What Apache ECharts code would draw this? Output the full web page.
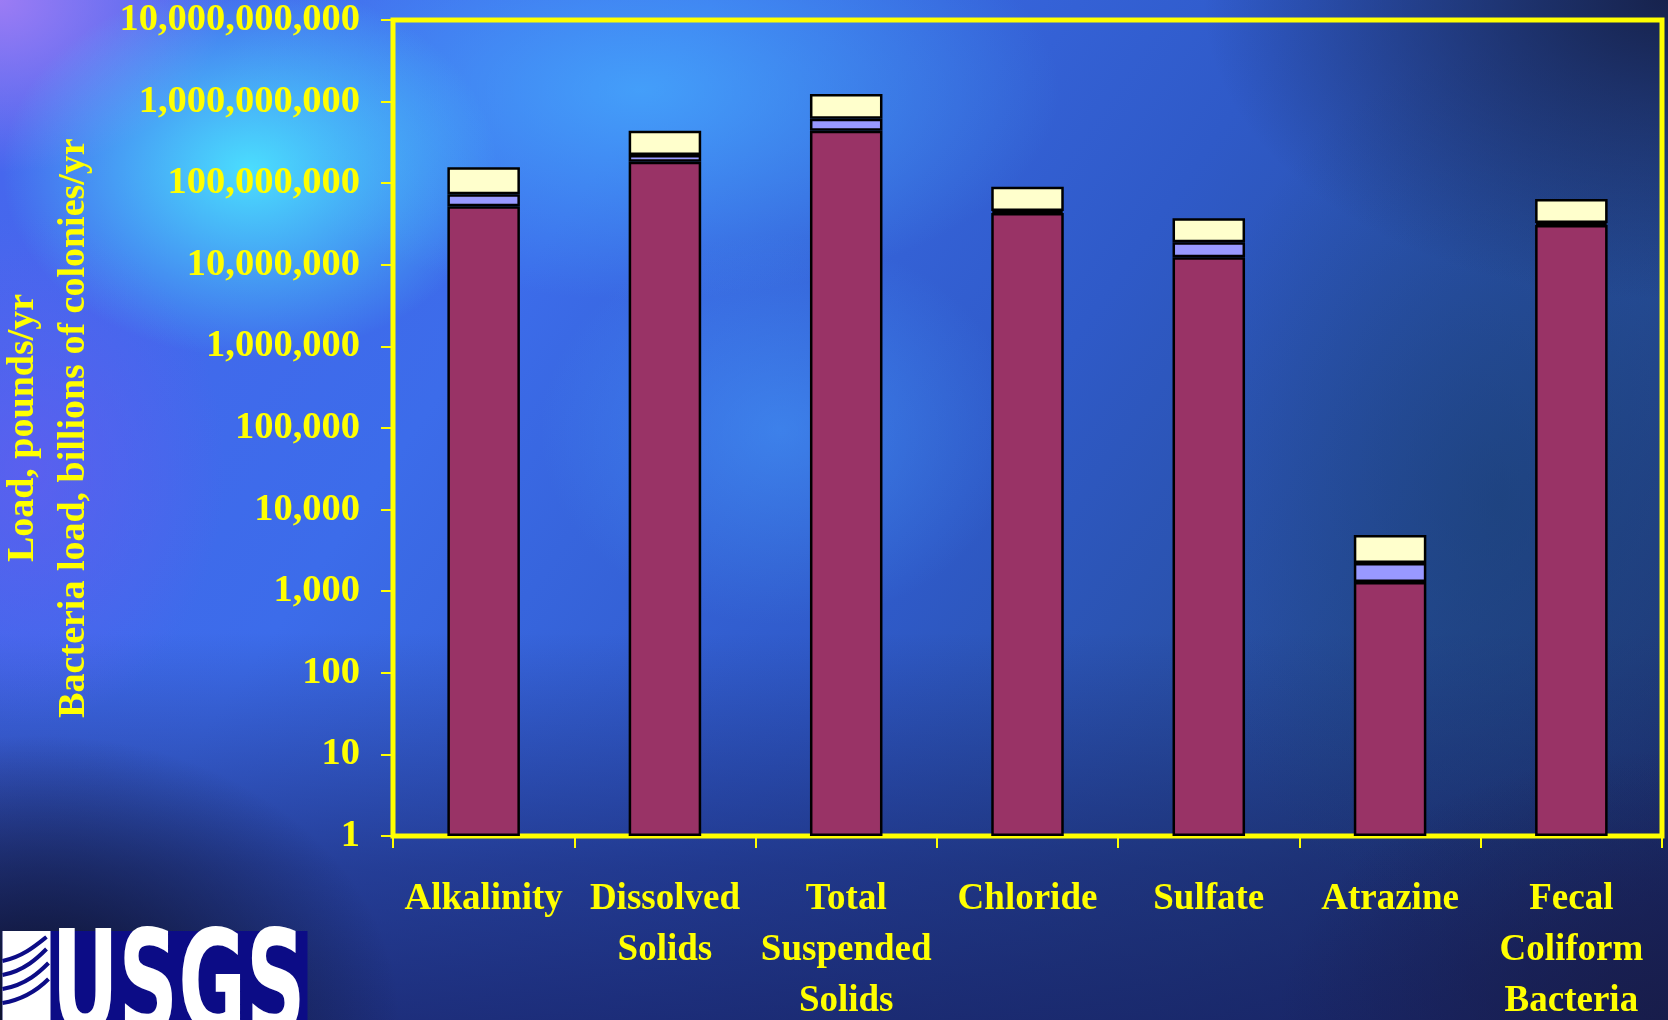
<!DOCTYPE html>
<html>
<head>
<meta charset="utf-8">
<title>Constituent loads</title>
<script src="https://cdn.jsdelivr.net/npm/echarts@6/dist/echarts.min.js"></script>
<style>
  html, body {
    margin: 0;
    padding: 0;
    width: 1668px;
    height: 1020px;
    overflow: hidden;
  }
  body {
    background:
      radial-gradient(ellipse 330px 250px at 250px 170px, rgba(75, 228, 255, 0.95), rgba(75, 228, 255, 0) 75%),
      radial-gradient(ellipse 300px 230px at 0px 0px, rgba(160, 125, 245, 0.95), rgba(160, 125, 245, 0) 75%),
      radial-gradient(ellipse 560px 280px at 640px 90px, rgba(70, 175, 255, 0.75), rgba(70, 175, 255, 0) 75%),
      radial-gradient(ellipse 320px 260px at 780px 430px, rgba(70, 160, 255, 0.5), rgba(70, 160, 255, 0) 75%),
      radial-gradient(ellipse 260px 340px at 30px 470px, rgba(100, 92, 240, 0.7), rgba(100, 92, 240, 0) 75%),
      radial-gradient(ellipse 480px 380px at 40px 1020px, rgba(12, 14, 38, 1), rgba(12, 14, 38, 0) 75%),
      radial-gradient(ellipse 620px 400px at 1668px 0px, rgba(22, 32, 72, 0.95), rgba(22, 32, 72, 0) 75%),
      radial-gradient(ellipse 520px 360px at 1668px 1020px, rgba(24, 28, 72, 0.9), rgba(24, 28, 72, 0) 75%),
      radial-gradient(ellipse 420px 600px at 1500px 500px, rgba(24, 60, 110, 0.55), rgba(24, 60, 110, 0) 75%),
      linear-gradient(180deg, rgba(22, 30, 95, 0) 0%, rgba(22, 30, 95, 0) 62%, rgba(22, 30, 95, 0.55) 85%, rgba(22, 30, 95, 0.75) 100%),
      linear-gradient(125deg, #4866ee 0%, #3c6cea 30%, #2f5ac8 55%, #264c98 78%, #1d3068 100%);
  }
  #chart {
    width: 1668px;
    height: 1020px;
  }
</style>
</head>
<body>
<div id="chart"></div>
<script>
// Loads by constituent, split into three stacked components (values per year)
const categories = [
  'Alkalinity',
  'Dissolved\nSolids',
  'Total\nSuspended\nSolids',
  'Chloride',
  'Sulfate',
  'Atrazine',
  'Fecal\nColiform\nBacteria'
];
const lowerLoad  = [52000000, 183000000, 440000000, 43000000, 12400000, 1300, 30800000];
const middleLoad = [21000000,  39000000, 177000000,  2500000,  6500000,  920,  1700000];
const upperLoad  = [84000000, 218000000, 620000000, 45000000, 18300000, 2670, 31500000];

const yTickLabels = [
  '1', '10', '100', '1,000', '10,000', '100,000', '1,000,000',
  '10,000,000', '100,000,000', '1,000,000,000', '10,000,000,000'
];

const yellow = '#FFFF00';
const serif = '"Liberation Serif", "Times New Roman", serif';

// Fit the USGS word mark into its box
const logoFont = 'bold 140px "Liberation Sans Narrow", "DejaVu Sans Condensed", "Liberation Sans", sans-serif';
const measureCtx = document.createElement('canvas').getContext('2d');
measureCtx.font = logoFont;
const logoScaleX = 254 / measureCtx.measureText('USGS').width;

const chart = echarts.init(document.getElementById('chart'), null, { renderer: 'canvas' });

const barStyle = (color) => ({
  color: color,
  borderColor: '#000000',
  borderWidth: 2.5
});

chart.setOption({
  backgroundColor: 'transparent',
  animation: false,
  grid: {
    left: 393,
    right: 6,
    top: 20,
    bottom: 184,
    outerBoundsMode: 'none',
    containLabel: false,
    show: true,
    borderColor: yellow,
    borderWidth: 5,
    backgroundColor: 'transparent'
  },
  xAxis: {
    type: 'category',
    data: categories,
    axisLine: { show: false },
    axisTick: {
      show: true,
      length: 12,
      lineStyle: { color: yellow, width: 2 }
    },
    axisLabel: {
      interval: 0,
      margin: 38,
      color: yellow,
      fontFamily: serif,
      fontWeight: 'bold',
      fontSize: 37,
      lineHeight: 51
    },
    splitLine: { show: false }
  },
  yAxis: {
    type: 'log',
    logBase: 10,
    min: 1,
    max: 10000000000,
    interval: 1,
    name: 'Load, pounds/yr\nBacteria load, billions of colonies/yr',
    nameLocation: 'middle',
    nameRotate: 90,
    nameGap: 293,
    nameTextStyle: {
      color: yellow,
      fontFamily: serif,
      fontWeight: 'bold',
      fontSize: 38,
      lineHeight: 51,
      align: 'center'
    },
    axisLine: { show: false },
    axisTick: {
      show: true,
      length: 12,
      lineStyle: { color: yellow, width: 2 }
    },
    axisLabel: {
      margin: 33,
      color: yellow,
      fontFamily: serif,
      fontWeight: 'bold',
      fontSize: 38.5,
      showMinLabel: true,
      showMaxLabel: true,
      hideOverlap: false,
      formatter: (v) => {
        const i = Math.round(Math.log10(v));
        return yTickLabels[i] !== undefined ? yTickLabels[i] : '';
      }
    },
    splitLine: { show: false },
    minorTick: { show: false }
  },
  series: [
    {
      name: 'Lower',
      type: 'bar',
      stack: 'load',
      barWidth: '40%',
      data: lowerLoad,
      itemStyle: barStyle('#993366')
    },
    {
      name: 'Middle',
      type: 'bar',
      stack: 'load',
      barWidth: '40%',
      data: middleLoad,
      itemStyle: barStyle('#9999FF')
    },
    {
      name: 'Upper',
      type: 'bar',
      stack: 'load',
      barWidth: '40%',
      data: upperLoad,
      itemStyle: barStyle('#FFFFCC')
    }
  ],
  graphic: [
    {
      // USGS identifier block
      type: 'group',
      left: 0,
      top: 925,
      silent: true,
      children: [
        {
          type: 'rect',
          shape: { x: 0, y: 0, width: 305, height: 95 },
          style: { fill: '#0c0c86' }
        },
        {
          type: 'rect',
          shape: { x: 0, y: 0, width: 48, height: 95 },
          style: { fill: '#ffffff' }
        },
        {
          type: 'bezierCurve',
          shape: { x1: 0, y1: 30, x2: 44, y2: 6, cpx1: 20, cpy1: 26, cpx2: 34, cpy2: 14 },
          style: { stroke: '#0c0c86', lineWidth: 4, fill: null }
        },
        {
          type: 'bezierCurve',
          shape: { x1: 0, y1: 44, x2: 44, y2: 18, cpx1: 22, cpy1: 40, cpx2: 36, cpy2: 26 },
          style: { stroke: '#0c0c86', lineWidth: 4, fill: null }
        },
        {
          type: 'bezierCurve',
          shape: { x1: 0, y1: 58, x2: 46, y2: 32, cpx1: 24, cpy1: 54, cpx2: 38, cpy2: 40 },
          style: { stroke: '#0c0c86', lineWidth: 4, fill: null }
        },
        {
          type: 'bezierCurve',
          shape: { x1: 0, y1: 72, x2: 46, y2: 48, cpx1: 24, cpy1: 68, cpx2: 38, cpy2: 56 },
          style: { stroke: '#0c0c86', lineWidth: 4, fill: null }
        },
        {
          type: 'text',
          x: 49,
          y: -6,
          scaleX: logoScaleX,
          style: {
            text: 'USGS',
            fill: '#ffffff',
            font: logoFont,
            textVerticalAlign: 'top'
          }
        }
      ]
    }
  ]
});
</script>
</body>
</html>
